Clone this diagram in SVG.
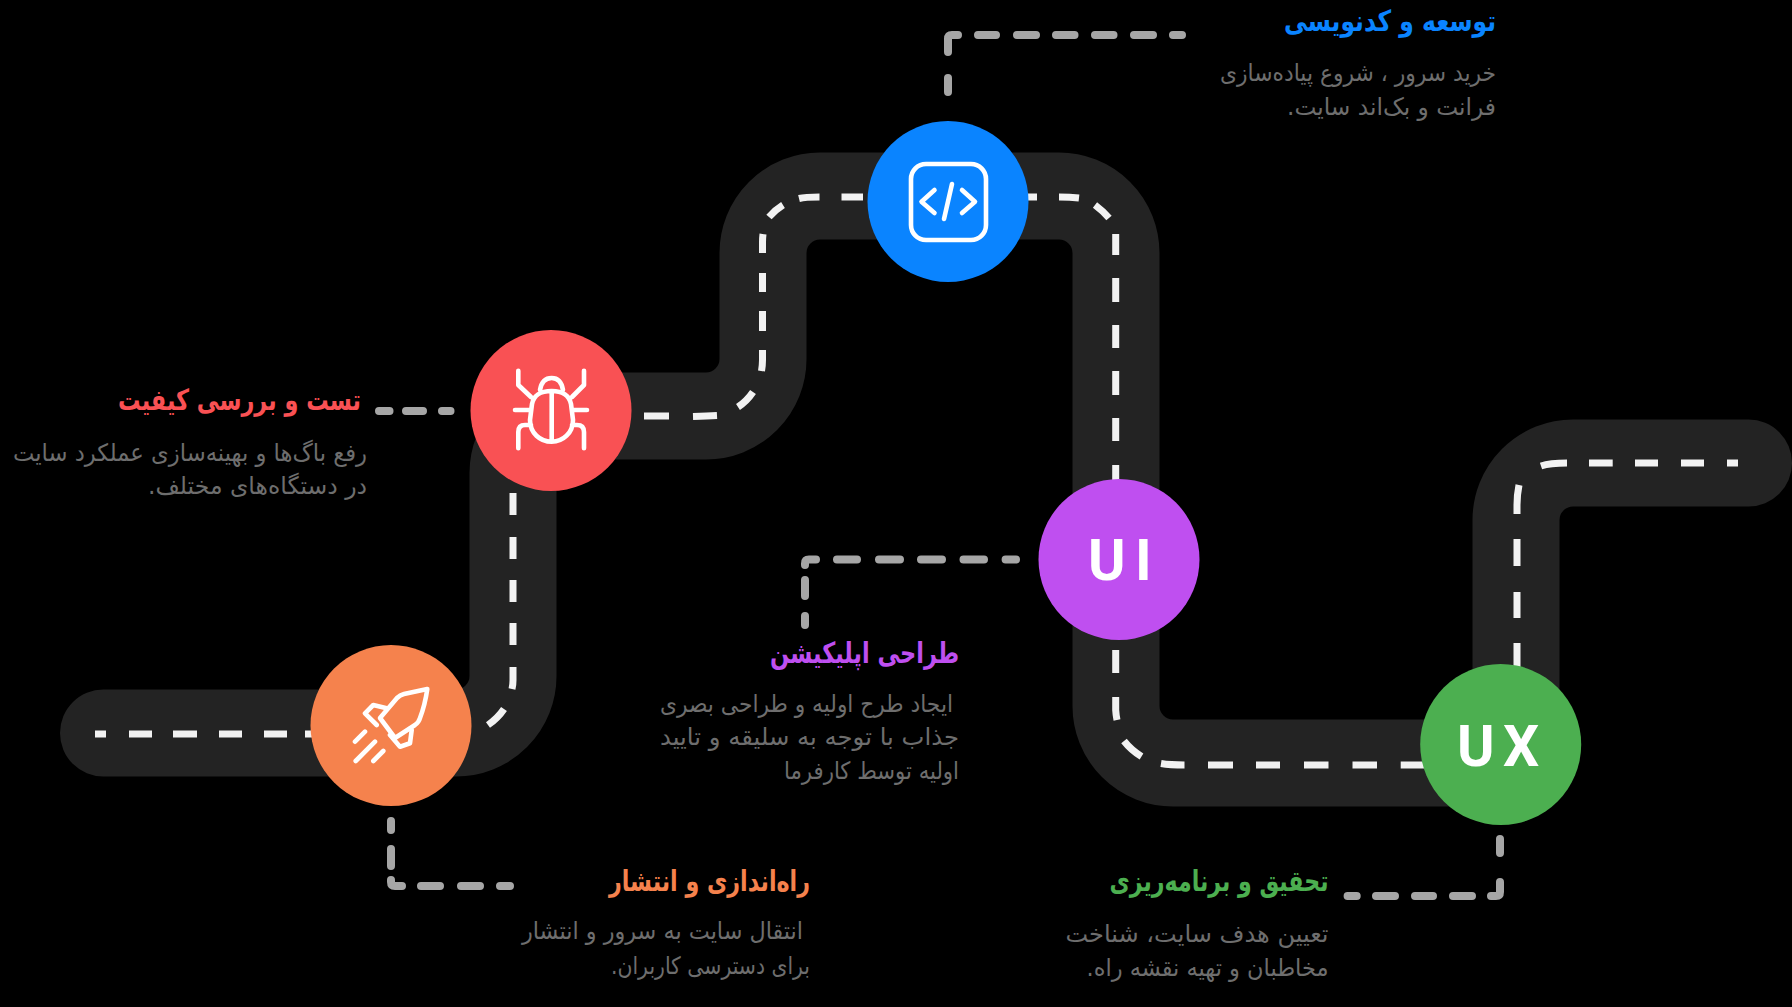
<svg xmlns="http://www.w3.org/2000/svg" width="1792" height="1007" viewBox="0 0 1792 1007">
<style>
.road{fill:none;stroke:#232323;stroke-width:87;stroke-linecap:round}
.lane{fill:none;stroke:#f2f2f2;stroke-width:7}
.lead{fill:none;stroke:#a6a6a6;stroke-width:8;stroke-linecap:round;stroke-linejoin:round}
.ico{fill:none;stroke:#fff;stroke-width:4.600;stroke-linecap:round;stroke-linejoin:round}
text{font-family:"DejaVu Sans",sans-serif;direction:rtl;text-anchor:start}
.t{font-size:29px;font-weight:700}
.d{font-size:24px;fill:#6e6e6e}
.big{font-family:Roboto,"Liberation Sans",sans-serif;font-size:57px;font-weight:700;fill:#fff;direction:ltr}
</style>
<rect width="1792" height="1007" fill="#000"/>
<g id="connectors">
<path class="road" d="M103.500 733H456A57 57 0 0 0 513 676V473A57 57 0 0 1 570 416H706A57 57 0 0 0 763 359V253A57 57 0 0 1 820 196H1059A57 57 0 0 1 1116 253V706A57 57 0 0 0 1173 763H1459A57 57 0 0 0 1516 706V520A57 57 0 0 1 1573 463H1748.500"/>
<path class="lane" d="M95 734H106M129 734H152M173 734H197M219 734H242M264 734H287M305 734H320M488 725Q498 718 504 709M513 667V680Q513 685 512 689M513 623V645M513 580V602M513 537V559M513 493V515M644 416H669M693 416.500Q708 416 717 415.500M738 407Q747 401 753 392M762.500 350V360Q762.500 365 761.500 371M762.500 311V331M762.500 273V292M762.500 253V242Q762.500 238 763 234M769 217Q775 210 783 205M799 198.500Q805 197 819.500 197M841.500 197H863M1020 197H1037M1059 197Q1070 197 1079 198M1095 205Q1103 211 1109 218M1115.700 234V255M1115.700 278V302M1115.700 325V348M1115.700 371V395M1115.700 418V441M1115.700 465V490M1115.700 650V673M1115.700 697V710Q1116 715 1117 720M1124 741Q1131 750 1141.500 756.500M1161 763.500Q1170 765 1184.500 765M1208 765H1233M1256 765H1280M1304 765H1328.500M1352.500 765H1377M1400.700 765H1430M1517 643V670M1517 592V618M1517 539V566M1517 514V505Q1517 495 1519 485M1541 466Q1550 463 1567 463M1589 463H1612.700M1635 463H1658M1681 463H1704M1727 463H1738"/>
<path class="lead" d="M948 78V92M948 52V39Q948 35 952 35H958M978 35H996M1017 35H1036M1056 35H1074.500M1095 35H1113.500M1134 35H1153M1173 35H1182"/>
<path class="lead" d="M379 411H389.500M406 411H423M442 411H450.500"/>
<path class="lead" d="M391 821V830M391 849V866M391 880V882Q391 886 395 886H402M421 886H440M461 886H480M500 886H510"/>
<path class="lead" d="M1016 559.500H1005.600M984 559.500H963.500M942 559.500H921M900 559.500H879M857 559.500H837M816 559.500H809Q805 559.500 805 563.500V565M805 580V596M805 616V625"/>
<path class="lead" d="M1500 839V853M1500 882V892Q1500 896 1496 896H1491M1472 896H1453M1433 896H1415M1395 896H1376M1356.700 896H1347.600"/>
</g>
<g id="node-launch">
<circle cx="391" cy="725.500" r="80.500" fill="#f5824d"/>
<path class="ico" d="M427.300 689L404 694Q400 695 397 698L380 718L395 738L415 725Q419 722 420 718Q425 705 427.300 689Z"/>
<path class="ico" d="M386.700 708.300L373.300 705L365 713.300L376.700 725M411.700 730L410 743.300L400 746.700L390 735M365 731.700L355 741.700M375 741.700L355.700 761M383.300 751L373.300 761"/>
<text class="t" x="810" y="891" fill="#f5824d" textLength="201" lengthAdjust="spacingAndGlyphs">راه‌اندازی و انتشار</text>
<text class="d" x="803" y="939" textLength="281" lengthAdjust="spacingAndGlyphs">انتقال سایت به سرور و انتشار</text>
<text class="d" x="810" y="974" textLength="199" lengthAdjust="spacingAndGlyphs">برای دسترسی کاربران.</text>
</g>
<g id="node-test">
<circle cx="551" cy="410.500" r="80.500" fill="#f95154"/>
<path class="ico" d="M551.700 391C563 391 569 395 571 404L573 420C573 433 563 441.700 551.700 441.700C540 441.700 530 433 530 420L532 404C534 395 540 391 551.700 391ZM551.700 391V441.700M540 390Q542 378 551.700 378Q561 378 563 390M518.300 370.700V385L531 397M584 370.700V385L572 397M515 410H530M573 410H587M518.300 448.300V432Q518.300 425 525 425H531M584 448.300V432Q584 425 577 425H572"/>
<text class="t" x="361" y="410" fill="#f95154" textLength="243" lengthAdjust="spacingAndGlyphs">تست و بررسی کیفیت</text>
<text class="d" x="367" y="461" textLength="354" lengthAdjust="spacingAndGlyphs">رفع باگ‌ها و بهینه‌سازی عملکرد سایت</text>
<text class="d" x="367" y="494" textLength="219" lengthAdjust="spacingAndGlyphs">در دستگاه‌های مختلف.</text>
</g>
<g id="node-development">
<circle cx="948" cy="201.500" r="80.500" fill="#0a84ff"/>
<rect class="ico" x="911" y="164" width="75" height="76" rx="15"/>
<path class="ico" d="M934.500 190L921.500 201.700L934.500 213M962 190L975 201.700L962 213M952 184L944 219"/>
<text class="t" x="1496" y="31" fill="#0a84ff" textLength="212" lengthAdjust="spacingAndGlyphs">توسعه و کدنویسی</text>
<text class="d" x="1496" y="81" textLength="276" lengthAdjust="spacingAndGlyphs">خرید سرور ، شروع پیاده‌سازی</text>
<text class="d" x="1496" y="115" textLength="209" lengthAdjust="spacingAndGlyphs">فرانت و بک‌اند سایت.</text>
</g>
<g id="node-ui">
<circle cx="1119" cy="559.500" r="80.500" fill="#bf4ff0"/>
<text class="big" x="1088 1135" y="580">UI</text>
<text class="t" x="959" y="663" fill="#bf4ff0" textLength="189" lengthAdjust="spacingAndGlyphs">طراحی اپلیکیشن</text>
<text class="d" x="953" y="712" textLength="293" lengthAdjust="spacingAndGlyphs">ایجاد طرح اولیه و طراحی بصری</text>
<text class="d" x="959" y="745" textLength="299" lengthAdjust="spacingAndGlyphs">جذاب با توجه به سلیقه و تایید</text>
<text class="d" x="959" y="779" textLength="175" lengthAdjust="spacingAndGlyphs">اولیه توسط کارفرما</text>
</g>
<g id="node-ux">
<circle cx="1500.700" cy="744.500" r="80.500" fill="#4caf50"/>
<text class="big" x="1457 1503" y="766">UX</text>
<text class="t" x="1328.500" y="891" fill="#4caf50" textLength="219" lengthAdjust="spacingAndGlyphs">تحقیق و برنامه‌ریزی</text>
<text class="d" x="1328.500" y="942" textLength="263" lengthAdjust="spacingAndGlyphs">تعیین هدف سایت، شناخت</text>
<text class="d" x="1328.500" y="976" textLength="242" lengthAdjust="spacingAndGlyphs">مخاطبان و تهیه نقشه راه.</text>
</g>
</svg>
